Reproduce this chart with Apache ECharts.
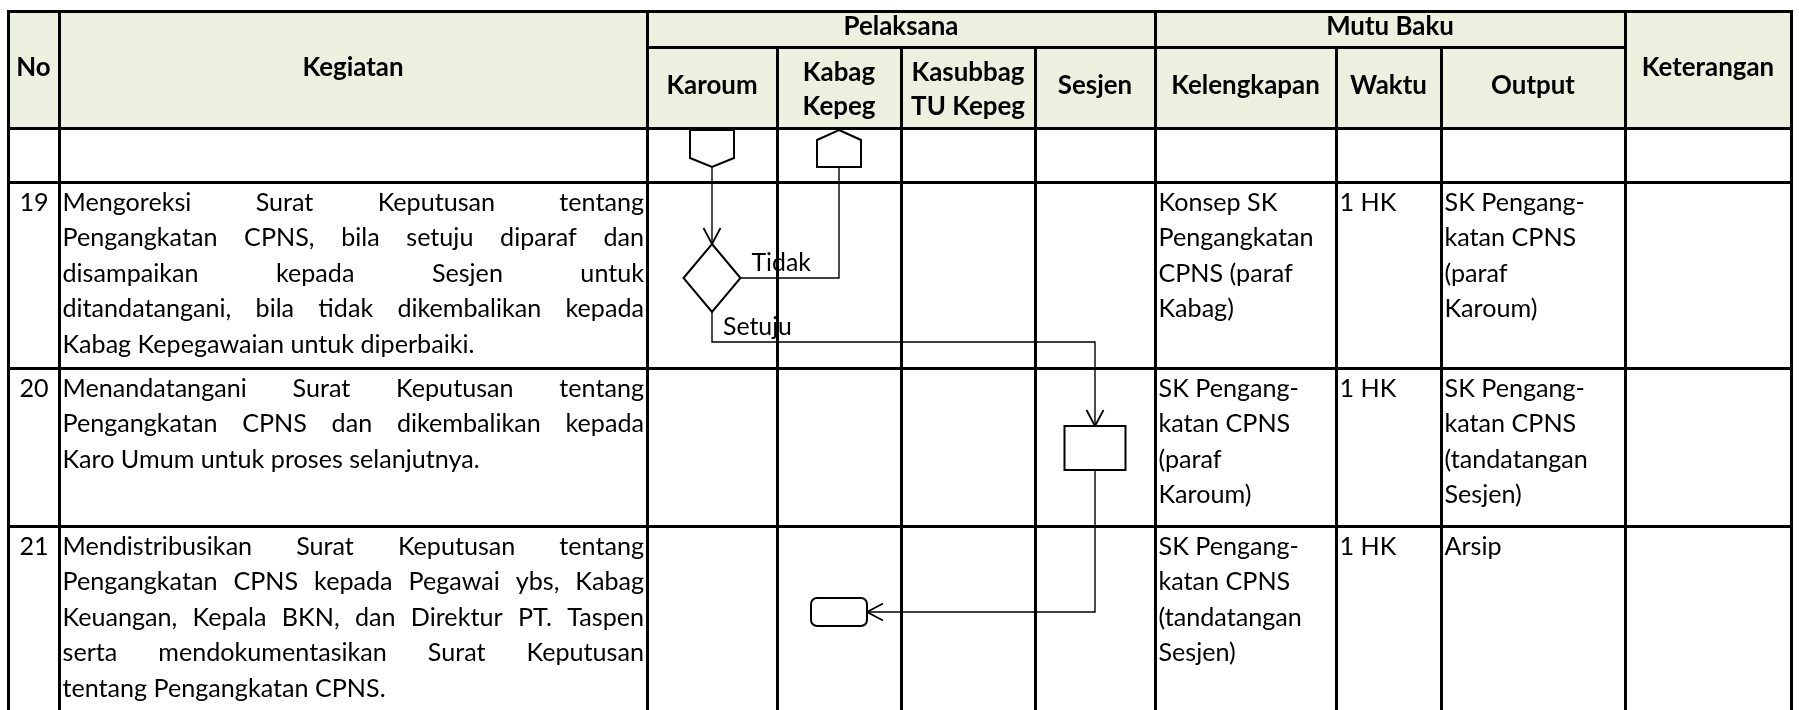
<!DOCTYPE html>
<html>
<head>
<meta charset="utf-8">
<script src="https://cdn.jsdelivr.net/npm/echarts@6/dist/echarts.min.js"></script>
<style>
html,body{margin:0;padding:0;background:#ffffff;}
#chart{width:1799px;height:710px;}
</style>
</head>
<body>
<div id="chart"></div>
<script>
// ================= DATA =================
const groupHeaders = ['Pelaksana', 'Mutu Baku'];
const columnHeaders = ['No', 'Kegiatan', 'Karoum', 'Kabag\nKepeg', 'Kasubbag\nTU Kepeg', 'Sesjen',
  'Kelengkapan', 'Waktu', 'Output', 'Keterangan'];
const lanes = ['Karoum', 'Kabag Kepeg', 'Kasubbag TU Kepeg', 'Sesjen'];
const stepNumbers = ['', '19', '20', '21'];
const activities = [
  [],
  ['Mengoreksi Surat Keputusan tentang',
   'Pengangkatan CPNS, bila setuju diparaf dan',
   'disampaikan kepada Sesjen untuk',
   'ditandatangani, bila tidak dikembalikan kepada',
   'Kabag Kepegawaian untuk diperbaiki.'],
  ['Menandatangani Surat Keputusan tentang',
   'Pengangkatan CPNS dan dikembalikan kepada',
   'Karo Umum untuk proses selanjutnya.'],
  ['Mendistribusikan Surat Keputusan tentang',
   'Pengangkatan CPNS kepada Pegawai ybs, Kabag',
   'Keuangan, Kepala BKN, dan  Direktur PT. Taspen',
   'serta mendokumentasikan Surat Keputusan',
   'tentang Pengangkatan CPNS.']
];
const kelengkapan = [
  [],
  ['Konsep SK', 'Pengangkatan', 'CPNS (paraf', 'Kabag)'],
  ['SK Pengang-', 'katan CPNS', '(paraf', 'Karoum)'],
  ['SK Pengang-', 'katan CPNS', '(tandatangan', 'Sesjen)']
];
const waktu = [[], ['1 HK'], ['1 HK'], ['1 HK']];
const outputs = [
  [],
  ['SK Pengang-', 'katan CPNS', '(paraf', 'Karoum)'],
  ['SK Pengang-', 'katan CPNS', '(tandatangan', 'Sesjen)'],
  ['Arsip']
];
const keterangan = [[], [], [], []];

// flowchart: nodes sit in a lane (Pelaksana column) and a table row
const flowNodes = [
  { id: 'inKaroum', shape: 'offpageDown', lane: 0, row: 0 },
  { id: 'inKabag',  shape: 'offpageUp',   lane: 1, row: 0 },
  { id: 'check',    shape: 'decision',    lane: 0, row: 1 },
  { id: 'sign',     shape: 'process',     lane: 3, row: 2 },
  { id: 'done',     shape: 'terminator',  lane: 1, row: 3 }
];
const flowEdges = [
  { from: 'inKaroum', to: 'check',   route: 'down',          arrow: true,  label: '' },
  { from: 'check',    to: 'inKabag', route: 'rightUp',       arrow: false, label: 'Tidak' },
  { from: 'check',    to: 'sign',    route: 'downRightDown', arrow: true,  label: 'Setuju' },
  { from: 'sign',     to: 'done',    route: 'downLeft',      arrow: true,  label: '' }
];

// ================= LAYOUT (pixels in a 1799 x 710 frame) =================
const W = 1799, H = 710;
const colEdges = [8, 59, 647, 777, 901, 1035, 1155, 1336, 1441, 1625, 1791];
const headTop = 11, groupLine = 47, headBottom = 128;
const rowEdges = [128, 182, 368, 526, 716];
const flowY = [148.5, 278, 448, 612];
const bendAboveRowEnd = 26;
const firstLineOffset = 20.5, lineGap = 35.5, headLineGap = 34.5;
const HEADER_FILL = '#ebf1de';
const FONT = 'Lato';
const shapeSize = {
  offpageDown: { w: 44, h: 37, p: 9 },
  offpageUp:   { w: 44, h: 37, p: 10 },
  decision:    { w: 57, h: 68 },
  process:     { w: 61, h: 44 },
  terminator:  { w: 56, h: 28, r: 6 }
};

// text sizing (Calibri-like metrics approximated with Lato)
const mctx = document.createElement('canvas').getContext('2d');
function textWidth(t, weight, size) {
  mctx.font = weight + ' ' + size + 'px ' + FONT;
  return mctx.measureText(t).width;
}
let bodySize = 20 * 412 / textWidth('Kabag Kepegawaian untuk diperbaiki.', 'normal', 20);
// keep every justified line able to fit its column with a minimum word gap
activities.forEach(lines => lines.forEach((l, i) => {
  if (i === lines.length - 1) return;
  const words = l.split(/\s+/);
  const avail = (colEdges[2] - colEdges[1]) - 7 - 6 * (words.length - 1);
  const w = words.reduce((a, s) => a + textWidth(s, 'normal', bodySize), 0);
  if (w > avail) bodySize *= avail / w;
}));
const headSize = 20 * 113 / textWidth('Kasubbag', 'bold', 20);
const labelSize = 20 * 69 / textWidth('Setuju', 'normal', 20);

// ================= BUILD TABLE CELLS =================
const cells = [];
const E = colEdges;
function head(x0, x1, y0, y1, text) {
  cells.push({ x0, x1, y0, y1, fill: HEADER_FILL, kind: 'head', lines: text.split('\n') });
}
head(E[0], E[1], headTop, headBottom, columnHeaders[0]);
head(E[1], E[2], headTop, headBottom, columnHeaders[1]);
head(E[2], E[6], headTop, groupLine, groupHeaders[0]);
head(E[6], E[9], headTop, groupLine, groupHeaders[1]);
for (let c = 2; c <= 8; c++) head(E[c], E[c + 1], groupLine, headBottom, columnHeaders[c]);
head(E[9], E[10], headTop, headBottom, columnHeaders[9]);

for (let r = 0; r < stepNumbers.length; r++) {
  const y0 = rowEdges[r], y1 = rowEdges[r + 1];
  for (let c = 0; c < 10; c++) {
    const cell = { x0: E[c], x1: E[c + 1], y0, y1, fill: '#ffffff', kind: 'none', lines: [] };
    if (c === 0) { cell.kind = 'num'; cell.lines = stepNumbers[r] ? [stepNumbers[r]] : []; }
    else if (c === 1) { cell.kind = 'justify'; cell.lines = activities[r]; }
    else if (c === 6) { cell.kind = 'left'; cell.lines = kelengkapan[r]; }
    else if (c === 7) { cell.kind = 'left'; cell.lines = waktu[r]; }
    else if (c === 8) { cell.kind = 'left'; cell.lines = outputs[r]; }
    else if (c === 9) { cell.kind = 'left'; cell.lines = keterangan[r]; }
    cells.push(cell);
  }
}

function txt(x, y, text, size, weight, align, z2) {
  return {
    type: 'text', x, y, z2: z2 || 30, silent: true,
    style: { text, fill: '#000000', fontSize: size, fontFamily: FONT, fontWeight: weight,
      align: align, verticalAlign: 'middle' }
  };
}

function renderCell(params, api) {
  const c = cells[params.dataIndex];
  const p0 = api.coord([c.x0, c.y0]);
  const p1 = api.coord([c.x1, c.y1]);
  const children = [];
  children.push({ type: 'rect', z2: 0, shape: { x: p0[0], y: p0[1], width: p1[0] - p0[0], height: p1[1] - p0[1] },
    style: { fill: c.fill, stroke: null } });
  children.push({ type: 'rect', z2: 10, shape: { x: p0[0] + 0.5, y: p0[1] + 0.5, width: p1[0] - p0[0], height: p1[1] - p0[1] },
    style: { fill: null, stroke: '#000000', lineWidth: 3 } });
  const n = c.lines.length;
  if (c.kind === 'head') {
    const cx = (p0[0] + p1[0]) / 2;
    const cy = (p0[1] + p1[1]) / 2 + (n > 1 ? 2 : -2);
    c.lines.forEach((l, i) => children.push(txt(cx, cy + (i - (n - 1) / 2) * headLineGap, l, headSize, 'bold', 'center')));
  } else if (c.kind === 'num') {
    c.lines.forEach((l, i) => children.push(txt(p0[0] + 26, p0[1] + firstLineOffset + i * lineGap, l, bodySize, 'normal', 'center')));
  } else if (c.kind === 'left') {
    c.lines.forEach((l, i) => children.push(txt(p0[0] + 3.5, p0[1] + firstLineOffset + i * lineGap, l, bodySize, 'normal', 'left')));
  } else if (c.kind === 'justify') {
    const left = p0[0] + 3.5, right = p1[0] - 3;
    c.lines.forEach((l, i) => {
      const y = p0[1] + firstLineOffset + i * lineGap;
      if (i === n - 1) { children.push(txt(left, y, l, bodySize, 'normal', 'left')); return; }
      const words = l.split(/\s+/);
      const ws = words.map(w => textWidth(w, 'normal', bodySize));
      const sum = ws.reduce((a, b) => a + b, 0);
      const gap = words.length > 1 ? (right - left - sum) / (words.length - 1) : 0;
      let x = left;
      words.forEach((w, k) => { children.push(txt(x, y, w, bodySize, 'normal', 'left')); x += ws[k] + gap; });
    });
  }
  return { type: 'group', children };
}

// ================= FLOW GEOMETRY =================
function laneX(lane) { return (colEdges[2 + lane] + colEdges[3 + lane]) / 2; }
const nodeIndex = {};
flowNodes.forEach((n, i) => { nodeIndex[n.id] = i; });

function nodeBox(api, i) {
  const n = flowNodes[i];
  const s = shapeSize[n.shape];
  const c = api.coord([laneX(n.lane), flowY[n.row]]);
  return { cx: c[0], cy: c[1], l: c[0] - s.w / 2, r: c[0] + s.w / 2, t: c[1] - s.h / 2, b: c[1] + s.h / 2 };
}

function renderNode(params, api) {
  const c = api.coord([api.value(0), api.value(1)]);
  const n = flowNodes[params.dataIndex];
  const s = shapeSize[n.shape];
  const x = c[0], y = c[1], hw = s.w / 2, hh = s.h / 2;
  const st = { fill: '#ffffff', stroke: '#000000', lineWidth: 2, lineJoin: 'miter' };
  let el;
  if (n.shape === 'offpageDown') {
    el = { type: 'polygon', shape: { points: [[x - hw, y - hh], [x + hw, y - hh], [x + hw, y + hh - s.p], [x, y + hh], [x - hw, y + hh - s.p]] }, style: st };
  } else if (n.shape === 'offpageUp') {
    el = { type: 'polygon', shape: { points: [[x, y - hh], [x + hw, y - hh + s.p], [x + hw, y + hh], [x - hw, y + hh], [x - hw, y - hh + s.p]] }, style: st };
  } else if (n.shape === 'decision') {
    el = { type: 'polygon', shape: { points: [[x, y - hh], [x + hw, y], [x, y + hh], [x - hw, y]] }, style: st };
  } else if (n.shape === 'process') {
    el = { type: 'rect', shape: { x: x - hw, y: y - hh, width: s.w, height: s.h }, style: st };
  } else {
    el = { type: 'rect', shape: { x: x - hw, y: y - hh, width: s.w, height: s.h, r: s.r }, style: st };
  }
  el.z2 = 50;
  return el;
}

function renderEdge(params, api) {
  const e = flowEdges[params.dataIndex];
  const a = nodeBox(api, nodeIndex[e.from]);
  const b = nodeBox(api, nodeIndex[e.to]);
  let pts;
  if (e.route === 'down') {
    pts = [[a.cx, a.b], [a.cx, b.t]];
  } else if (e.route === 'rightUp') {
    pts = [[a.r, a.cy], [b.cx, a.cy], [b.cx, b.b]];
  } else if (e.route === 'downRightDown') {
    const fromRow = flowNodes[nodeIndex[e.from]].row;
    const bend = api.coord([0, rowEdges[fromRow + 1] - bendAboveRowEnd])[1];
    pts = [[a.cx, a.b], [a.cx, bend], [b.cx, bend], [b.cx, b.t]];
  } else {
    pts = [[a.cx, a.b], [a.cx, b.cy], [b.r, b.cy]];
  }
  const children = [{ type: 'polyline', z2: 40, shape: { points: pts },
    style: { stroke: '#000000', lineWidth: 1.4, fill: null } }];
  if (e.arrow) {
    const p = pts[pts.length - 1], q = pts[pts.length - 2];
    const dx = p[0] - q[0], dy = p[1] - q[1], len = Math.hypot(dx, dy);
    const ux = dx / len, uy = dy / len, nx = -uy, ny = ux;
    const L = 16, Hh = 8.5;
    children.push({ type: 'polyline', z2: 45, shape: { points: [
      [p[0] - ux * L + nx * Hh, p[1] - uy * L + ny * Hh], p, [p[0] - ux * L - nx * Hh, p[1] - uy * L - ny * Hh]] },
      style: { stroke: '#000000', lineWidth: 1.8, fill: null } });
  }
  if (e.label) {
    let hs = pts[0];
    for (let k = 0; k < pts.length - 1; k++) {
      if (Math.abs(pts[k][1] - pts[k + 1][1]) < 0.01) { hs = pts[k]; break; }
    }
    children.push(txt(hs[0] + 11, hs[1] - 15, e.label, labelSize, 'normal', 'left', 60));
  }
  return { type: 'group', children };
}

// ================= CHART =================
const chart = echarts.init(document.getElementById('chart'), null, { renderer: 'canvas' });
chart.setOption({
  animation: false,
  backgroundColor: '#ffffff',
  grid: { left: 0, right: 0, top: 0, bottom: 0 },
  xAxis: { type: 'value', min: 0, max: W, show: false },
  yAxis: { type: 'value', min: 0, max: H, inverse: true, show: false },
  series: [
    { type: 'custom', name: 'table', coordinateSystem: 'cartesian2d', clip: false, silent: true, z: 1,
      data: cells.map(c => [(c.x0 + c.x1) / 2, (c.y0 + c.y1) / 2]), renderItem: renderCell },
    { type: 'custom', name: 'edges', coordinateSystem: 'cartesian2d', clip: false, silent: true, z: 2,
      data: flowEdges.map((e, i) => [i, 0]), renderItem: renderEdge },
    { type: 'custom', name: 'nodes', coordinateSystem: 'cartesian2d', clip: false, silent: true, z: 3,
      data: flowNodes.map(n => [laneX(n.lane), flowY[n.row]]), renderItem: renderNode }
  ]
});
</script>
</body>
</html>
